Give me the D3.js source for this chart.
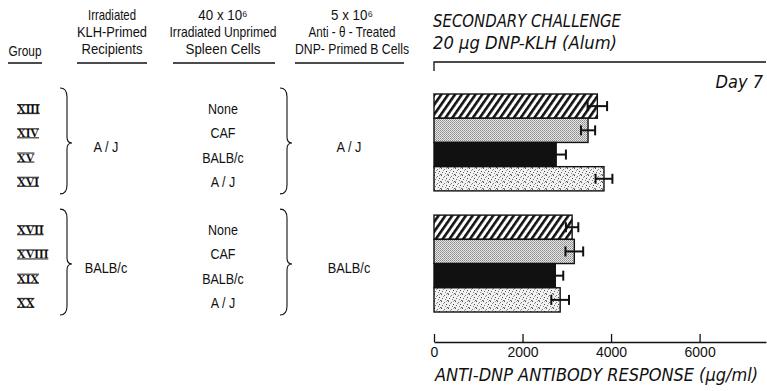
<!DOCTYPE html>
<html>
<head>
<meta charset="utf-8">
<script src="https://cdn.jsdelivr.net/npm/d3@7"></script>
<style>
  html, body { margin: 0; padding: 0; background: #fff; }
  svg { display: block; }
  .lbl { font-family: "Liberation Sans", Arial, "DejaVu Sans", sans-serif; font-size: 14.5px; fill: #111; }
  .ital { font-family: "DejaVu Sans Condensed", "Liberation Sans", sans-serif; font-style: italic; fill: #111; }
  .roman { font-family: "Liberation Serif", "DejaVu Serif", serif; font-weight: bold; font-size: 12px; fill: #111; }
</style>
</head>
<body>
<svg id="chart" width="767" height="391"></svg>
<script>
// Experimental groups and their cell-transfer protocol
const groups      = ["XIII", "XIV", "XV", "XVI", "XVII", "XVIII", "XIX", "XX"];
const recipients  = ["A / J", "BALB/c"];            // irradiated KLH-primed recipients (per block)
const spleenCells = ["None", "CAF", "BALB/c", "A / J", "None", "CAF", "BALB/c", "A / J"];
const bCells      = ["A / J", "BALB/c"];            // anti-theta treated DNP-primed B cells (per block)

// Day 7 anti-DNP antibody response (µg/ml), mean and standard error
const response = [3690, 3480, 2760, 3840, 3120, 3170, 2740, 2850];
const sem      = [220, 160, 220, 190, 140, 200, 180, 200];
const fills    = ["hatch", "fine", "solid", "coarse", "hatch", "fine", "solid", "coarse"];
const xTicks   = [0, 2000, 4000, 6000];

const svg = d3.select("#chart");
const ink = "#111";

// squeeze a text horizontally to a fraction of its natural width (never wider than maxW)
function narrow(sel, k, maxW) {
  sel.each(function () {
    let w = this.getComputedTextLength() * k;
    if (maxW) w = Math.min(w, maxW);
    d3.select(this).attr("textLength", w).attr("lengthAdjust", "spacingAndGlyphs");
  });
  return sel;
}

// ---- fill patterns ----
const defs = svg.append("defs");
const hatch = defs.append("pattern").attr("id", "hatch")
  .attr("patternUnits", "userSpaceOnUse").attr("width", 5.6).attr("height", 10)
  .attr("patternTransform", "rotate(35)");
hatch.append("rect").attr("width", 5.6).attr("height", 10).attr("fill", "#fff");
hatch.append("rect").attr("width", 2.6).attr("height", 10).attr("fill", ink);

const fine = defs.append("pattern").attr("id", "fine")
  .attr("patternUnits", "userSpaceOnUse").attr("width", 2).attr("height", 2);
fine.append("rect").attr("width", 2).attr("height", 2).attr("fill", "#e8e8e8");
fine.append("rect").attr("x", 0).attr("y", 0).attr("width", 1).attr("height", 1).attr("fill", "#8a8a8a");
fine.append("rect").attr("x", 1).attr("y", 1).attr("width", 1).attr("height", 1).attr("fill", "#a0a0a0");

const coarse = defs.append("pattern").attr("id", "coarse")
  .attr("patternUnits", "userSpaceOnUse").attr("width", 7).attr("height", 7);
coarse.append("rect").attr("width", 7).attr("height", 7).attr("fill", "#f2f2f2");
[[0,0,"#555"],[3,1,"#777"],[5,3,"#444"],[1,4,"#666"],[4,5,"#888"],[2,2,"#999"],[6,6,"#666"],[0,6,"#999"],[5,0,"#aaa"]]
  .forEach(([px, py, c]) => coarse.append("rect").attr("x", px).attr("y", py)
    .attr("width", 1).attr("height", 1).attr("fill", c));

const fillOf = k => k === "solid" ? ink : `url(#${k})`;

// ---- scales ----
const slot = i => (i < 4 ? i : i + 1);            // one empty slot between the two blocks
const y = d3.scaleBand().domain(d3.range(9)).range([94, 312]).paddingInner(0);
const x = d3.scaleLinear().domain([0, 7500]).range([434, 766]);
const cy = i => y(slot(i)) + y.bandwidth() / 2;

// ---- bars ----
svg.append("g").selectAll("rect").data(groups).join("rect")
  .attr("x", x(0))
  .attr("y", (d, i) => y(slot(i)))
  .attr("width", (d, i) => x(response[i]) - x(0))
  .attr("height", y.bandwidth())
  .attr("fill", (d, i) => fillOf(fills[i]))
  .attr("stroke", ink).attr("stroke-width", 1.4);

// ---- error bars ----
const eb = svg.append("g").attr("stroke", ink).attr("stroke-width", 2);
groups.forEach((g, i) => {
  const x0 = x(response[i] - sem[i]), x1 = x(response[i] + sem[i]), yc = cy(i);
  eb.append("line").attr("x1", x0).attr("x2", x1).attr("y1", yc).attr("y2", yc);
  eb.append("line").attr("x1", x0).attr("x2", x0).attr("y1", yc - 5).attr("y2", yc + 5);
  eb.append("line").attr("x1", x1).attr("x2", x1).attr("y1", yc - 5).attr("y2", yc + 5);
});

// ---- frame top with Day label ----
svg.append("path")
  .attr("d", `M${x(0)},71V62H766`)
  .attr("fill", "none").attr("stroke", ink).attr("stroke-width", 1.3);
svg.append("text").attr("class", "ital")
  .attr("x", 763).attr("y", 88).attr("text-anchor", "end")
  .style("font-size", "18px").text("Day 7");

// ---- x axis ----
const axis = svg.append("g").attr("transform", "translate(0,342)")
  .call(d3.axisBottom(x).tickValues(xTicks).tickSizeInner(-8).tickSizeOuter(0)
    .tickPadding(5).tickFormat(d3.format("d")));
axis.select(".domain").attr("stroke", ink).attr("stroke-width", 1.3);
axis.selectAll(".tick line").attr("stroke", ink).attr("stroke-width", 1.3);
axis.selectAll(".tick text")
  .attr("fill", ink)
  .style("font-family", "\"Liberation Sans\", Arial, sans-serif")
  .style("font-size", "14px");

svg.append("text").attr("class", "ital")
  .attr("x", 435).attr("y", 381)
  .attr("textLength", 323).attr("lengthAdjust", "spacingAndGlyphs")
  .style("font-size", "18px").text("ANTI-DNP ANTIBODY RESPONSE (µg/ml)");

// ---- chart title ----
svg.append("text").attr("class", "ital")
  .attr("x", 433).attr("y", 27)
  .attr("textLength", 188).attr("lengthAdjust", "spacingAndGlyphs")
  .style("font-size", "18px").text("SECONDARY CHALLENGE");
svg.append("text").attr("class", "ital")
  .attr("x", 433).attr("y", 49)
  .attr("textLength", 184).attr("lengthAdjust", "spacingAndGlyphs")
  .style("font-size", "18px").text("20 µg DNP-KLH (Alum)");

// ---- protocol table: column headers (text, max width) ----
const headers = [
  { cx: 25,  lines: [null, null, ["Group", 33]], y0: 56, ul: [8, 42] },
  { cx: 112, lines: [["Irradiated", 48], ["KLH-Primed", 70], ["Recipients", 61]], y0: 54, ul: [77, 147] },
  { cx: 223, lines: [["40 x 10⁶", 58], ["Irradiated Unprimed", 107], ["Spleen Cells", 88]], y0: 54, ul: [173, 275] },
  { cx: 352, lines: [["5 x 10⁶", 46], ["Anti - θ - Treated", 87], ["DNP- Primed B Cells", 114]], y0: 54, ul: [295, 404] }
];
const hg = svg.append("g");
headers.forEach(h => {
  h.lines.forEach((ln, k) => {
    if (!ln) return;
    const t = hg.append("text").attr("class", "lbl")
      .attr("x", h.cx).attr("y", h.y0 - (2 - k) * 17)
      .attr("text-anchor", "middle").text(ln[0]);
    narrow(t, 0.92, ln[1]);
  });
  hg.append("line").attr("x1", h.ul[0]).attr("x2", h.ul[1]).attr("y1", 63).attr("y2", 63)
    .attr("stroke", ink).attr("stroke-width", 1.5);
});

// ---- group numerals with over/under bars ----
const rg = svg.append("g");
groups.forEach((g, i) => {
  const yc = cy(i) + 3;
  const t = rg.append("text").attr("class", "roman")
    .attr("x", 17).attr("y", yc + 4).text(g);
  const w = t.node().getComputedTextLength();
  rg.append("line").attr("x1", 17).attr("x2", 17 + w).attr("y1", yc - 4.5).attr("y2", yc - 4.5)
    .attr("stroke", ink).attr("stroke-width", 1);
  rg.append("line").attr("x1", 17).attr("x2", 17 + w).attr("y1", yc + 4.5).attr("y2", yc + 4.5)
    .attr("stroke", ink).attr("stroke-width", 1);
});

// ---- spleen cell donors ----
narrow(svg.append("g").selectAll("text").data(spleenCells).join("text")
  .attr("class", "lbl").attr("text-anchor", "middle")
  .attr("x", 223).attr("y", (d, i) => cy(i) + 8).text(d => d), 0.86);

// ---- braces grouping each block ----
function brace(sx, top, bot, tipY) {
  return `M${sx - 7},${top}Q${sx},${top} ${sx},${top + 9}` +
         `L${sx},${tipY - 6}Q${sx},${tipY} ${sx + 5},${tipY}` +
         `Q${sx},${tipY} ${sx},${tipY + 6}` +
         `L${sx},${bot - 9}Q${sx},${bot} ${sx - 7},${bot}`;
}
const bg = svg.append("g").attr("fill", "none").attr("stroke", ink).attr("stroke-width", 1.1);
[0, 1].forEach(b => {
  const first = b * 4, last = b * 4 + 3;
  const top = y(slot(first)) - 6;
  const bot = y(slot(last)) + y.bandwidth() + 3;
  const tip = (top + bot) / 2 + 2;
  bg.append("path").attr("d", brace(67, top, bot, tip));
  bg.append("path").attr("d", brace(287, top, bot, tip));
  narrow(svg.append("text").attr("class", "lbl").attr("text-anchor", "middle")
    .attr("x", 106).attr("y", tip + 9).text(recipients[b]), 0.88);
  narrow(svg.append("text").attr("class", "lbl").attr("text-anchor", "middle")
    .attr("x", 349).attr("y", tip + 9).text(bCells[b]), 0.88);
});
</script>
</body>
</html>
